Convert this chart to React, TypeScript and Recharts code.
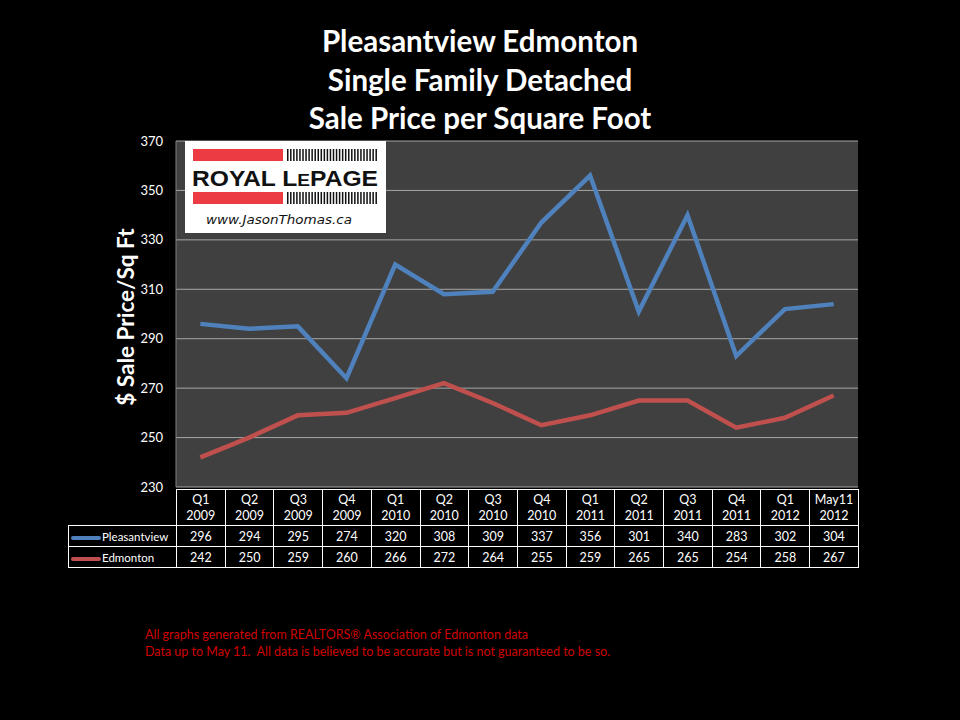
import React from 'react';
import { LineChart, Line, XAxis, YAxis, CartesianGrid } from 'recharts';

const quarters = ['Q1', 'Q2', 'Q3', 'Q4', 'Q1', 'Q2', 'Q3', 'Q4', 'Q1', 'Q2', 'Q3', 'Q4', 'Q1', 'May11'];
const years = ['2009', '2009', '2009', '2009', '2010', '2010', '2010', '2010', '2011', '2011', '2011', '2011', '2012', '2012'];
const pleasantview = [296, 294, 295, 274, 320, 308, 309, 337, 356, 301, 340, 283, 302, 304];
const edmonton = [242, 250, 259, 260, 266, 272, 264, 255, 259, 265, 265, 254, 258, 267];
const yTicks = [230, 250, 270, 290, 310, 330, 350, 370];

const titleLines = ['Pleasantview Edmonton', 'Single Family Detached', 'Sale Price per Square Foot'];
const footerLines = [
    'All graphs generated from REALTORS® Association of Edmonton data',
    'Data up to May 11.  All data is believed to be accurate but is not guaranteed to be so.',
];

const BLUE = '#4f81bd';
const RED = '#c0504d';
const FONT = 'Lato, "Open Sans", sans-serif';

const data = quarters.map((q, i) => ({
    name: `${q} ${years[i]}`,
    pleasantview: pleasantview[i],
    edmonton: edmonton[i],
}));

const PLOT_LEFT = 176;
const PLOT_RIGHT = 858;
const COL_W = (PLOT_RIGHT - PLOT_LEFT) / quarters.length;

const cell: React.CSSProperties = {
    border: '1px solid #fff',
    textAlign: 'center',
    padding: 0,
    color: '#fff',
    fontSize: 12.5,
};

const Logo = () => {
    const bars = Array.from({ length: 30 }, (_, i) => i);
    return (
        <svg width={201} height={92} style={{ position: 'absolute', left: 185, top: 141 }}>
            <rect x={0} y={0} width={201} height={92} fill="#fff" />
            <rect x={8} y={8} width={90} height={12} fill="#ed3b43" />
            <rect x={8} y={51} width={90} height={12} fill="#ed3b43" />
            {bars.map((i) => (
                <g key={i}>
                    <rect x={102 + i * 3.05} y={8} width={1.5} height={12} fill="#111" />
                    <rect x={102 + i * 3.05} y={51} width={1.5} height={12} fill="#111" />
                </g>
            ))}
            <text x={100} y={45} textAnchor="middle" fontFamily='"Liberation Sans", Arial, sans-serif'
                fontWeight="bold" fontSize={22} fill="#111" textLength={186} lengthAdjust="spacingAndGlyphs">
                ROYAL L<tspan fontSize={17}>E</tspan>PAGE
            </text>
            <text x={94} y={83} textAnchor="middle" fontFamily='"DejaVu Sans", sans-serif'
                fontStyle="italic" fontSize={12} fill="#111" textLength={146} lengthAdjust="spacingAndGlyphs">
                www.JasonThomas.ca
            </text>
        </svg>
    );
};

const App: React.FC = () => {
    return (
        <div style={{ position: 'absolute', left: 0, top: 0, width: 960, height: 720, background: '#000', fontFamily: FONT, overflow: 'hidden' }}>
            {titleLines.map((t, i) => (
                <div key={t} style={{
                    position: 'absolute', left: 0, width: 960, top: 23 + i * 38.5, textAlign: 'center',
                    color: '#fff', fontWeight: 'bold', fontSize: 29.5, lineHeight: '36px',
                }}>
                    {t}
                </div>
            ))}

            <div style={{ position: 'absolute', left: 0, top: 0 }}>
                <LineChart width={960} height={720} data={data}
                    margin={{ top: 141, right: 960 - PLOT_RIGHT, bottom: 720 - 487, left: PLOT_LEFT - 60 }}>
                    <CartesianGrid vertical={false} stroke="#a6a6a6" fill="#404040" />
                    <XAxis dataKey="name" hide padding={{ left: COL_W / 2, right: COL_W / 2 }} />
                    <YAxis width={60} domain={[230, 370]} ticks={yTicks} interval={0}
                        tick={{ fill: '#fff', fontSize: 13, fontFamily: FONT }}
                        tickLine={false} tickMargin={7} axisLine={{ stroke: '#808080' }} />
                    <Line dataKey="pleasantview" stroke={BLUE} strokeWidth={4.5} dot={false} isAnimationActive={false} />
                    <Line dataKey="edmonton" stroke={RED} strokeWidth={4.5} dot={false} isAnimationActive={false} />
                </LineChart>
            </div>

            <div style={{
                position: 'absolute', left: 125, top: 317, transform: 'translate(-50%, -50%) rotate(-90deg)',
                color: '#fff', fontWeight: 'bold', fontSize: 22.5, whiteSpace: 'nowrap',
            }}>
                $ Sale Price/Sq Ft
            </div>

            <Logo />

            <table style={{
                position: 'absolute', left: 68, top: 489, borderCollapse: 'collapse', tableLayout: 'fixed',
                width: PLOT_RIGHT - 68, fontFamily: FONT,
            }}>
                <colgroup>
                    <col style={{ width: PLOT_LEFT - 68 }} />
                    {quarters.map((_, i) => <col key={i} style={{ width: COL_W }} />)}
                </colgroup>
                <tbody>
                    <tr style={{ height: 36 }}>
                        <td style={{ ...cell, border: 'none' }} />
                        {quarters.map((q, i) => (
                            <td key={i} style={{ ...cell, lineHeight: '16px' }}>{q}<br />{years[i]}</td>
                        ))}
                    </tr>
                    {[
                        { label: 'Pleasantview', color: BLUE, values: pleasantview },
                        { label: 'Edmonton', color: RED, values: edmonton },
                    ].map((row) => (
                        <tr key={row.label} style={{ height: 21 }}>
                            <td style={{ ...cell, textAlign: 'left', fontSize: 11.5, whiteSpace: 'nowrap' }}>
                                <span style={{
                                    display: 'inline-block', width: 30, height: 4, borderRadius: 2,
                                    background: row.color, verticalAlign: 'middle', marginLeft: 2, marginRight: 1,
                                }} />
                                {row.label}
                            </td>
                            {row.values.map((v, i) => <td key={i} style={cell}>{v}</td>)}
                        </tr>
                    ))}
                </tbody>
            </table>

            {footerLines.map((t, i) => (
                <div key={i} style={{
                    position: 'absolute', left: 145, top: 627 + i * 17, color: '#d00000', fontSize: 12.5,
                    lineHeight: '16px', whiteSpace: 'pre',
                }}>
                    {t}
                </div>
            ))}
        </div>
    );
};

export default App;
